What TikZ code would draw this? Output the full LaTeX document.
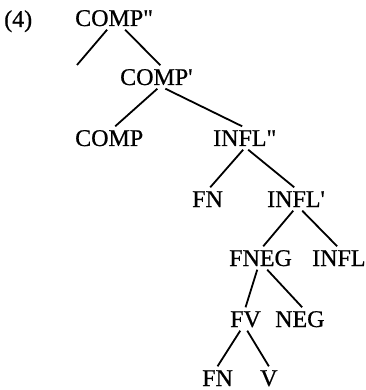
\documentclass[tikz,border=0pt]{standalone}
\usepackage{fontspec}
\newfontfamily\treefont[FakeBold=0.7]{Liberation Serif}
\begin{document}
\begin{tikzpicture}[x=1pt,y=-1pt,
  cat/.style={font=\treefont\fontsize{24}{24}\selectfont, inner xsep=0pt, inner ysep=3.5pt,
              text height=16pt, text depth=0pt, anchor=base west},
  branch/.style={line width=1.8pt}]
\useasboundingbox (0,0) rectangle (365,390);
% labels (base west anchors at baseline)
\node[cat] (ex)   at (4,27)    {(4)};
\node[cat] (cpp)  at (75,26)   {COMP"};
\node[cat] (cp)   at (120,85)  {COMP'};
\node[cat] (c)    at (75,146)  {COMP};
\node[cat] (ipp)  at (213,146) {INFL"};
\node[cat] (fn1)  at (192,207) {FN};
\node[cat] (ip)   at (267,207) {INFL'};
\node[cat] (fneg) at (229,266) {FNEG};
\node[cat] (i)    at (312,266) {INFL};
\node[cat] (fv)   at (230,327) {FV};
\node[cat] (neg)  at (275,327) {NEG};
\node[cat] (fn2)  at (202,386) {FN};
\node[cat] (v)    at (260,386) {V};
\coordinate (spec) at (77,65);
% branches
\draw[branch] ([xshift=-7pt]cpp.south) -- (spec);
\draw[branch] ([xshift=11pt]cpp.south) -- ([xshift=4pt]cp.north);
\draw[branch] ([xshift=1pt]cp.south) -- ([xshift=6pt]c.north);
\draw[branch] ([xshift=9pt]cp.south) -- ([xshift=-2.6pt]ipp.north);
\draw[branch] ([xshift=-1.6pt]ipp.south) -- ([xshift=2.7pt]fn1.north);
\draw[branch] ([xshift=3.4pt]ipp.south) -- ([xshift=-1.8pt]ip.north);
\draw[branch] ([xshift=-2.8pt]ip.south) -- ([xshift=2.7pt]fneg.north);
\draw[branch] ([xshift=6.2pt]ip.south) -- ([xshift=-1.7pt]i.north);
\draw[branch] ([xshift=-3.3pt]fneg.south) -- (fv.north);
\draw[branch] ([xshift=6.7pt]fneg.south) -- ([xshift=2.3pt]neg.north);
\draw[branch] ([xshift=-5.3pt]fv.south) -- (fn2.north);
\draw[branch] ([xshift=1.7pt]fv.south) -- (v.north);
\end{tikzpicture}
\end{document}
